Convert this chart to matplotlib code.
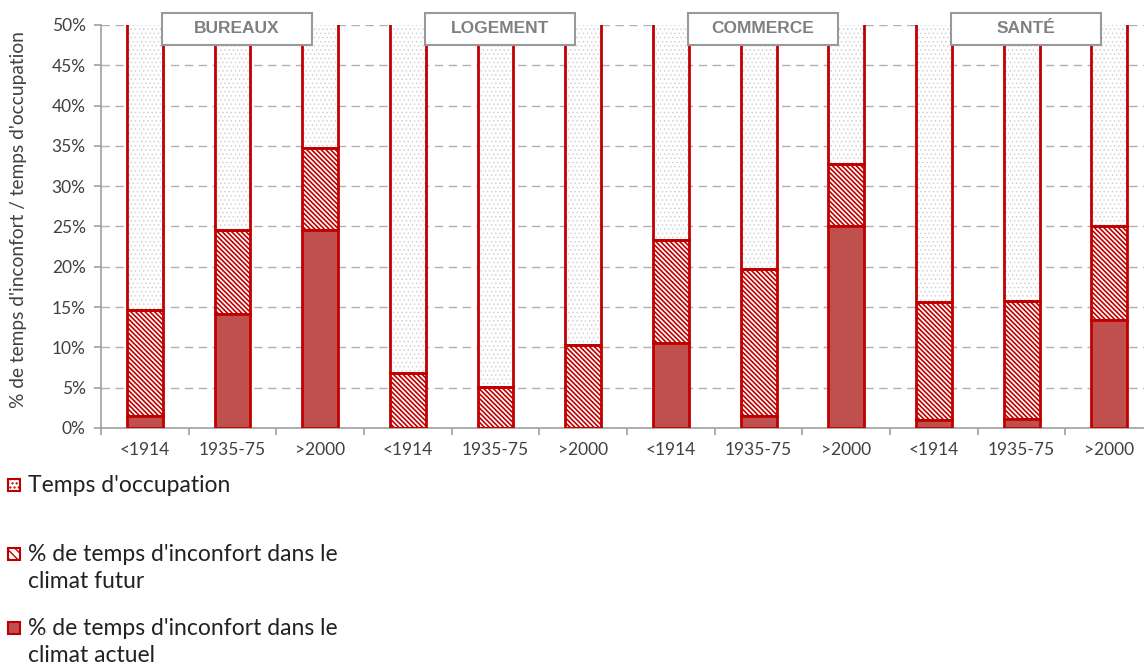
import numpy as np
import matplotlib
import matplotlib.pyplot as plt
from matplotlib.patches import Rectangle
from matplotlib.ticker import PercentFormatter

plt.rcParams["font.family"] = ["Lato", "DejaVu Sans"]

# building types and construction periods
groups = ["BUREAUX", "LOGEMENT", "COMMERCE", "SANTÉ"]
periods = ["<1914", "1935-75", ">2000"]

# % of occupied time in discomfort, present climate
actuel = [1.5, 14.2, 24.6, 0.0, 0.0, 0.0, 10.6, 1.5, 25.1, 1.0, 1.1, 13.4]
# extra % of discomfort in the future climate (stacked on top)
futur = [13.1, 10.4, 10.1, 6.8, 5.1, 10.3, 12.7, 18.2, 7.6, 14.6, 14.7, 11.6]

labels = periods * len(groups)
actuel = np.array(actuel)
futur = np.array(futur)
total = actuel + futur
occupation = 100.0 - total

red = "#c00000"
fill = "#c0504d"
dots = "#cccccc"
grey_txt = "#404040"

fig = plt.figure(figsize=(11.44, 6.68), dpi=100)
ax = fig.add_axes([0.0883, 0.3593, 0.9196, 0.6033])

x = np.arange(len(labels))
w = 0.41

# occupied time: dotted background, only the sides show under the 50% cap
with matplotlib.rc_context({"hatch.linewidth": 0.5}):
    ax.bar(x, occupation, w, bottom=total, color="white", edgecolor=dots,
           hatch="....", linewidth=0, zorder=2)
ax.bar(x, occupation, w, bottom=total, color="none", edgecolor=red,
       linewidth=2, zorder=3)

# future climate: red diagonal hatch
with matplotlib.rc_context({"hatch.linewidth": 1.2}):
    ax.bar(x, futur, w, bottom=actuel, color="white", edgecolor=red,
           hatch="\\" * 7, linewidth=0, zorder=2)
ax.bar(x, futur, w, bottom=actuel, color="none", edgecolor=red,
       linewidth=2, zorder=3)

# present climate: solid
ax.bar(x, actuel, w, color=fill, edgecolor=red, linewidth=2, zorder=3)

ax.set_xlim(-0.5, len(labels) - 0.5)
ax.set_ylim(0, 50)
ax.set_yticks(np.arange(0, 51, 5))
ax.yaxis.set_major_formatter(PercentFormatter(decimals=0))
ax.yaxis.grid(True, linestyle=(0, (6, 4)), color="#b0b0b0", linewidth=1, zorder=0)
ax.set_axisbelow(True)

ax.set_xticks(x)
ax.set_xticklabels(labels)
ax.set_xticks(np.arange(-0.5, len(labels), 1), minor=True)
ax.tick_params(axis="x", which="major", length=0, pad=10, labelsize=12.5,
               labelcolor=grey_txt)
ax.tick_params(axis="x", which="minor", length=5, color="#a0a0a0", width=1.2)
ax.tick_params(axis="y", length=5, color="#a0a0a0", width=1.2, labelsize=12.5,
               labelcolor=grey_txt, pad=6)

for side in ["top", "right"]:
    ax.spines[side].set_visible(False)
for side in ["left", "bottom"]:
    ax.spines[side].set_color("#a0a0a0")
    ax.spines[side].set_linewidth(1.2)

fig.text(0.016, 0.671, "% de temps d'inconfort / temps d'occupation",
         rotation=90, ha="center", va="center", fontsize=13.8, color=grey_txt)

# group headers above each block of three bars
trans = matplotlib.transforms.blended_transform_factory(ax.transData, ax.transAxes)
for i, name in enumerate(groups):
    cx = 3 * i + 1 + 0.05
    box = Rectangle((cx - 0.855, 0.950), 1.71, 0.080, transform=trans,
                    facecolor="white", edgecolor="#999999", linewidth=1.5,
                    clip_on=False, zorder=5)
    ax.add_patch(box)
    ax.text(cx, 0.992, name, transform=trans, ha="center", va="center",
            fontsize=12.5, fontweight="bold", color="#808080",
            family=["Liberation Sans", "DejaVu Sans"], zorder=6, clip_on=False)

# legend below the plot
def px(xp, yp):
    return xp / 1144, 1 - yp / 668

entries = [
    ("Temps d'occupation", 485, dict(facecolor="white", hatch="....")),
    ("% de temps d'inconfort dans le\nclimat futur", 554, dict(facecolor="white", hatch="\\\\\\\\")),
    ("% de temps d'inconfort dans le\nclimat actuel", 628, dict(facecolor=fill)),
]
for text, yc, style in entries:
    x0, y0 = px(8, yc + 6)
    sw = Rectangle((x0, y0), 12 / 1144, 12 / 668, transform=fig.transFigure,
                   edgecolor=red, linewidth=1.5, **style)
    fig.add_artist(sw)
    tx, ty = px(28, yc - 10)
    fig.text(tx, ty, text, ha="left", va="top", fontsize=16.5, color="#222222",
             linespacing=1.38)

fig.savefig("out.png", dpi=100)
